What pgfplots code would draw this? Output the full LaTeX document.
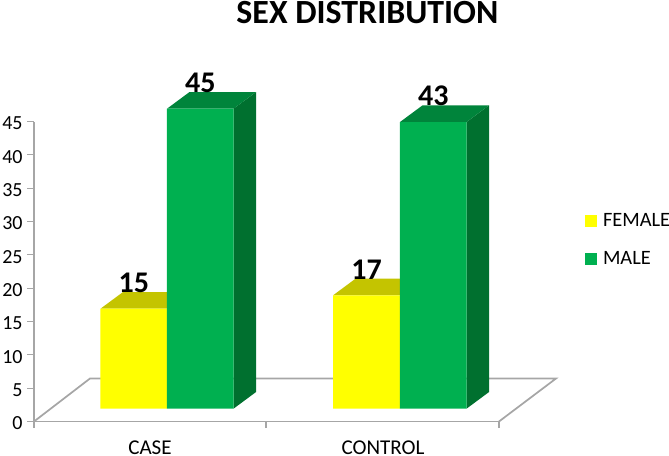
\documentclass[border=0pt]{standalone}
\usepackage{pgfplots}
\pgfplotsset{compat=1.18}
\usepackage{fontspec}
\setmainfont{Carlito}
\definecolor{axgray}{HTML}{A6A6A6}
\definecolor{yfront}{HTML}{FFFF00}
\definecolor{ytop}{HTML}{C4C400}
\definecolor{gfront}{HTML}{00B050}
\definecolor{gtop}{HTML}{00843B}
\definecolor{gside}{HTML}{00702F}
\begin{document}
\begin{tikzpicture}
\path[use as bounding box] (0,0) rectangle (501.75pt,341.25pt);
% axis frame, 1 px = 0.75 pt
\begin{axis}[
  scale only axis, width=348.75pt, height=225pt,
  at={(25.5pt,25.125pt)}, anchor=south west,
  xmin=0, xmax=465, ymin=0, ymax=45,
  axis lines=left, axis line style={draw=axgray, line width=1.3pt, -},
  clip=false,
  xtick={116,349}, xticklabels={CASE,CONTROL},
  minor xtick={0,232,465},
  ytick={0,5,...,45},
  major x tick style={draw=none},
  minor tick length=5pt,
  major tick length=5pt,
  tick align=outside,
  tick pos=left,
  every tick/.style={draw=axgray, line width=0.9pt},
  y tick label style={font=\fontsize{15}{15}\selectfont, yshift=-1.5pt},
  x tick label style={font=\fontsize{15.8}{15.8}\selectfont, inner sep=0pt, yshift=-9.5pt},
  /pgf/number format/assume math mode=true,
  title={\fontsize{25.4}{25.4}\selectfont\bfseries SEX DISTRIBUTION},
  title style={at={(0.717,1.338)}, anchor=center, inner sep=0pt},
]
\addplot[draw=axgray, line width=1.3pt, no marks] coordinates {(0,0) (56,6.45) (522,6.45) (465,0)};
\end{axis}
% bars: same frame, floor of the bars 12.8 px above the front edge
\begin{axis}[
  scale only axis, width=348.75pt, height=225pt,
  at={(25.5pt,25.125pt)}, anchor=south west,
  xmin=0, xmax=465, ymin=-1.92, ymax=43.08,
  hide axis, clip=false,
  /pgf/number format/assume math mode=true,
  legend cell align=left,
  legend style={at={(1.185,0.703)}, anchor=north west, draw=none, fill=none,
    inner sep=0pt, outer sep=0pt, row sep=13.5pt,
    font=\fontsize{15.3}{15.3}\selectfont,
    /tikz/every odd column/.append style={column sep=2.5pt}},
  legend image code/.code={\fill[#1] (0pt,-4.5pt) rectangle (9pt,4.5pt);},
]
% female tops
\addplot[fill=ytop, draw=none, no marks, forget plot] coordinates {(66.5,15) (89,17.5) (155.5,17.5) (133,15)};
\addplot[fill=ytop, draw=none, no marks, forget plot] coordinates {(299,17) (321.5,19.5) (388.5,19.5) (366,17)};
% female fronts
\addplot[ybar, /pgf/bar shift=0pt, bar width=50pt, fill=yfront, draw=none, forget plot,
  nodes near coords, point meta=y,
  every node near coord/.append style={font=\fontsize{22.5}{22.5}\selectfont\bfseries, text=black, anchor=south, inner sep=0pt, yshift=11.8pt}]
  coordinates {(99.75,15) (332.5,17)};
% male sides
\addplot[fill=gside, draw=none, no marks, forget plot] coordinates {(199.5,0) (222,2.5) (222,47.5) (199.5,45)};
\addplot[fill=gside, draw=none, no marks, forget plot] coordinates {(432.5,0) (455,2.5) (455,45.5) (432.5,43)};
% male tops
\addplot[fill=gtop, draw=none, no marks, forget plot] coordinates {(133,45) (155.5,47.5) (222,47.5) (199.5,45)};
\addplot[fill=gtop, draw=none, no marks, forget plot] coordinates {(366,43) (388.5,45.5) (455,45.5) (432.5,43)};
% male fronts
\addplot[ybar, /pgf/bar shift=0pt, bar width=50pt, fill=gfront, draw=none, forget plot,
  nodes near coords, point meta=y,
  every node near coord/.append style={font=\fontsize{22.5}{22.5}\selectfont\bfseries, text=black, anchor=south, inner sep=0pt, yshift=11.8pt}]
  coordinates {(166.25,45) (399.25,43)};
\addlegendimage{fill=yfront, draw=none}
\addlegendentry{FEMALE}
\addlegendimage{fill=gfront, draw=none}
\addlegendentry{MALE}
\end{axis}
\end{tikzpicture}
\end{document}
